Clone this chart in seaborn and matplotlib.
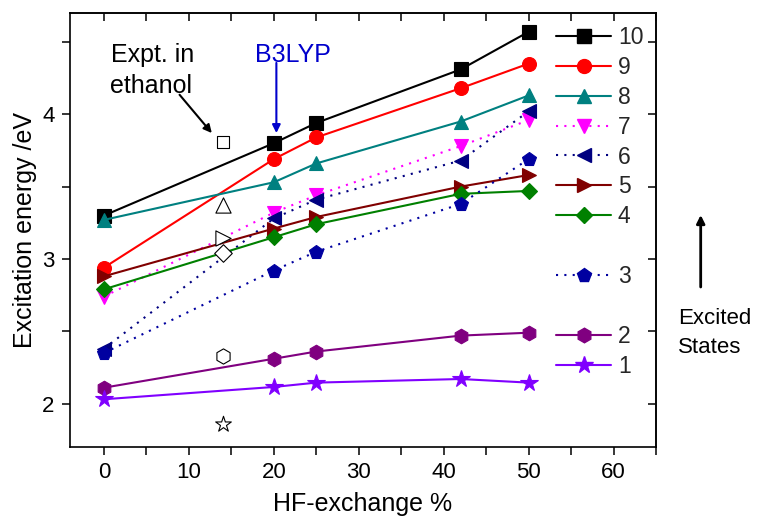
import matplotlib
matplotlib.use("Agg")
import matplotlib.pyplot as plt
import seaborn as sns
import numpy as np
import pandas as pd
from matplotlib.lines import Line2D
from matplotlib.ticker import MultipleLocator, FixedLocator, NullFormatter

# ---------------- data ----------------
hf = [0, 20, 25, 42, 50]
states = ["10", "9", "8", "7", "6", "5", "4", "3", "2", "1"]
s10 = [3.30, 3.80, 3.94, 4.31, 4.57]
s9 = [2.94, 3.69, 3.84, 4.18, 4.35]
s8 = [3.27, 3.53, 3.66, 3.95, 4.13]
s7 = [2.74, 3.32, 3.44, 3.78, 3.96]
s6 = [2.38, 3.28, 3.41, 3.68, 4.02]
s5 = [2.88, 3.21, 3.29, 3.50, 3.58]
s4 = [2.79, 3.15, 3.24, 3.45, 3.47]
s3 = [2.35, 2.92, 3.05, 3.38, 3.69]
s2 = [2.11, 2.31, 2.36, 2.47, 2.49]
s1 = [2.03, 2.115, 2.145, 2.17, 2.145]
series_values = [s10, s9, s8, s7, s6, s5, s4, s3, s2, s1]

expt_x = 14
expt_states = ["10", "8", "5", "4", "2", "1"]
expt_values = [3.81, 3.37, 3.145, 3.04, 2.33, 1.86]

x_ticks = [0, 10, 20, 30, 40, 50, 60]
y_ticks = [2, 3, 4]

# ---------------- styles ----------------
colors = {"10": "#000000", "9": "#ff0000", "8": "#008080", "7": "#ff00ff",
          "6": "#000080", "5": "#800000", "4": "#008000", "3": "#0000a0",
          "2": "#800080", "1": "#8000ff"}
markers = {"10": "s", "9": "o", "8": "^", "7": "v", "6": "<", "5": ">",
           "4": "D", "3": "p", "2": "h", "1": "*"}
msizes = {"10": 9.5, "9": 10, "8": 10.5, "7": 10.5, "6": 10.5, "5": 10.5,
          "4": 8.5, "3": 10.5, "2": 10.5, "1": 13}
dotted = (0, (1, 3))
lstyles = {s: "-" for s in states}
for s in ["7", "6", "3"]:
    lstyles[s] = dotted

sns.set_theme(style="ticks")
plt.rcParams["font.family"] = ["Liberation Sans", "DejaVu Sans"]

fig = plt.figure(figsize=(7.58, 5.2), dpi=100)
W, H = 758, 520
ax = fig.add_axes([70 / W, 1 - 447 / H, (656 - 70) / W, (447 - 13) / H])

for st, vals in zip(states, series_values):
    df = pd.DataFrame({"hf": hf, "E": vals})
    sns.lineplot(data=df, x="hf", y="E", ax=ax, color=colors[st],
                 marker=markers[st], markersize=msizes[st],
                 markeredgecolor=colors[st], markeredgewidth=0.8,
                 linestyle=lstyles[st], linewidth=1.5, zorder=3)

edf = pd.DataFrame({"hf": [expt_x] * len(expt_states), "E": expt_values,
                    "state": expt_states})
esize = {"10": 85, "8": 120, "5": 120, "4": 80, "2": 120, "1": 140}
for st in expt_states:
    sub = edf[edf["state"] == st]
    sns.scatterplot(data=sub, x="hf", y="E", ax=ax, marker=markers[st],
                    s=esize[st], facecolor="white", edgecolor="black",
                    linewidth=0.8, zorder=4)

ax.set_xlim(-4, 65)
ax.set_ylim(1.7, 4.7)
ax.xaxis.set_major_locator(FixedLocator(x_ticks))
ax.xaxis.set_minor_locator(MultipleLocator(5))
ax.yaxis.set_major_locator(FixedLocator(y_ticks))
ax.yaxis.set_minor_locator(MultipleLocator(0.5))
ax.set_xticklabels([str(t) for t in x_ticks])
ax.set_yticklabels([str(t) for t in y_ticks])
ax.tick_params(which="both", direction="out", length=6, width=1.1,
               color="black", labelsize=16, pad=5, labelcolor="black")
for sp in ax.spines.values():
    sp.set_visible(True)
    sp.set_linewidth(1.2)
    sp.set_color("black")

# mirrored ticks (inward) on top and right
top = ax.secondary_xaxis("top")
top.xaxis.set_major_locator(MultipleLocator(5))
top.xaxis.set_major_formatter(NullFormatter())
top.tick_params(direction="in", length=6, width=1.1, color="black")
right = ax.secondary_yaxis("right")
right.yaxis.set_major_locator(MultipleLocator(0.5))
right.yaxis.set_major_formatter(NullFormatter())
right.tick_params(direction="in", length=6, width=1.1, color="black")

ax.set_xlabel("HF-exchange %", fontsize=18, color="black", labelpad=6)
ax.set_ylabel("Excitation energy /eV", fontsize=18, color="black", labelpad=4)

# legend with gaps
handles, labels = [], []
order = ["10", "9", "8", "7", "6", "5", "4", None, "3", None, "2", "1"]
for st in order:
    if st is None:
        handles.append(Line2D([], [], linestyle="none", marker=None))
        labels.append(" ")
    else:
        handles.append(Line2D([], [], color=colors[st], marker=markers[st],
                              markersize=msizes[st], markeredgecolor=colors[st],
                              linestyle=lstyles[st], linewidth=1.5))
        labels.append(st)
leg = ax.legend(handles, labels, loc="upper left",
                bbox_to_anchor=(556 / W, 1 - 26 / H),
                bbox_transform=fig.transFigure, frameon=False, fontsize=16.5,
                handlelength=2.4, handletextpad=0.3, labelspacing=0.30,
                borderpad=0, borderaxespad=0)

# annotations
ax.text(0.79, 4.363, "Expt. in", fontsize=18, color="black", va="baseline")
ax.text(0.75, 4.147, "ethanol", fontsize=18, color="black", va="baseline")
ax.annotate("", xy=(12.7, 3.87), xytext=(8.9, 4.135),
            arrowprops=dict(arrowstyle="-|>", color="black", lw=1.5,
                            mutation_scale=12, shrinkA=0, shrinkB=0))
ax.text(17.76, 4.363, "B3LYP", fontsize=18, color="#0000cc", va="baseline")
ax.annotate("", xy=(20.3, 3.87), xytext=(20.3, 4.355),
            arrowprops=dict(arrowstyle="-|>", color="#0000cc", lw=1.5,
                            mutation_scale=12, shrinkA=0, shrinkB=0))

fig.text(678 / W, 1 - 324 / H, "Excited", fontsize=16, color="black", va="baseline")
fig.text(678 / W, 1 - 353 / H, "States", fontsize=16, color="black", va="baseline")
ax.annotate("", xy=(700.7, 520 - 215), xytext=(700.7, 520 - 287),
            xycoords="figure pixels", textcoords="figure pixels",
            arrowprops=dict(arrowstyle="-|>", color="black", lw=2,
                            mutation_scale=12, shrinkA=0, shrinkB=0),
            annotation_clip=False)

fig.savefig("out.png", dpi=100)
